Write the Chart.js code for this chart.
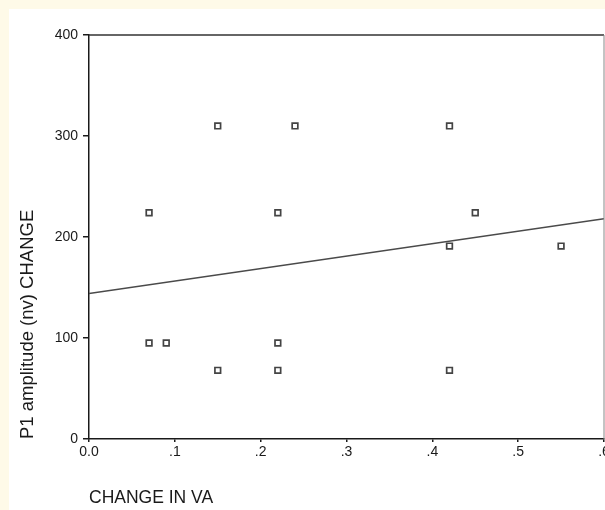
<!DOCTYPE html>
<html>
<head>
<meta charset="utf-8">
<script src="https://cdn.jsdelivr.net/npm/chart.js@4"></script>
<style>
    html, body { margin: 0; padding: 0; overflow: hidden; background: #fefae8; }
    #chart { position: absolute; left: 9px; top: 9px; background: #ffffff; }
</style>
</head>
<body>
<canvas id="chart" width="641" height="501"></canvas>
<script>
// Scatter data
var vaChange = [0.07, 0.07, 0.09, 0.15, 0.15, 0.22, 0.22, 0.22, 0.24, 0.42, 0.42, 0.42, 0.45, 0.55];
var p1Change = [224, 95, 95, 310, 68, 224, 95, 68, 310, 310, 191, 68, 224, 191];

// Fit line ends
var fitX = [0, 0.6];
var fitY = [144, 218];

var xTicks = [0, 0.1, 0.2, 0.3, 0.4, 0.5, 0.6];
var yTicks = [0, 100, 200, 300, 400];

var ink = '#1a1a1a';
var font = 'Arial, "Liberation Sans", sans-serif';

var points = vaChange.map(function(x, i) { return {x: x, y: p1Change[i]}; });
var fitLine = fitX.map(function(x, i) { return {x: x, y: fitY[i]}; });

// top and right edges of the plot box
var frame = {
    id: 'frame',
    afterDraw: function(chart) {
        var a = chart.chartArea, ctx = chart.ctx;
        ctx.save();
        ctx.strokeStyle = '#333333';
        ctx.lineWidth = 1.5;
        ctx.beginPath();
        ctx.moveTo(a.left, a.top);
        ctx.lineTo(a.right, a.top);
        ctx.stroke();
        ctx.strokeStyle = '#888888';
        ctx.lineWidth = 1;
        ctx.beginPath();
        ctx.moveTo(a.right, a.top);
        ctx.lineTo(a.right, a.bottom);
        ctx.stroke();
        ctx.restore();
    }
};

new Chart(document.getElementById('chart'), {
    type: 'scatter',
    data: {
        datasets: [
            {
                data: points,
                pointStyle: 'rect',
                pointRadius: 4,
                borderColor: '#444444',
                backgroundColor: '#ffffff',
                borderWidth: 1.7
            },
            {
                type: 'line',
                data: fitLine,
                borderColor: '#4a4a4a',
                borderWidth: 1.5,
                pointRadius: 0,
                fill: false
            }
        ]
    },
    options: {
        responsive: false,
        animation: false,
        layout: { padding: { left: 0, top: 26, right: 46, bottom: 0 } },
        plugins: { legend: { display: false }, tooltip: { enabled: false } },
        scales: {
            x: {
                type: 'linear',
                min: 0,
                max: 0.6,
                afterBuildTicks: function(scale) {
                    scale.ticks = xTicks.map(function(v) { return {value: v}; });
                },
                afterFit: function(scale) { scale.height = 71; },
                grid: { drawOnChartArea: false, tickLength: 3, color: ink, lineWidth: 1.5 },
                border: { color: ink, width: 1.5 },
                ticks: {
                    color: ink,
                    padding: 2,
                    maxRotation: 0,
                    font: { family: font, size: 14 },
                    callback: function(v) {
                        return v === 0 ? '0.0' : v.toFixed(1).replace(/^0/, '');
                    }
                },
                title: {
                    display: true,
                    text: 'CHANGE IN VA',
                    align: 'start',
                    color: ink,
                    font: { family: font, size: 17.5 },
                    padding: { top: 0, bottom: 1 }
                }
            },
            y: {
                type: 'linear',
                min: 0,
                max: 400,
                afterBuildTicks: function(scale) {
                    scale.ticks = yTicks.map(function(v) { return {value: v}; });
                },
                afterFit: function(scale) { scale.width = 80; },
                grid: { drawOnChartArea: false, tickLength: 6, color: ink, lineWidth: 1.5 },
                border: { color: ink, width: 1.5 },
                ticks: {
                    color: ink,
                    padding: 5,
                    font: { family: font, size: 14 }
                },
                title: {
                    display: true,
                    text: 'P1 amplitude (nv) CHANGE',
                    align: 'start',
                    color: ink,
                    font: { family: font, size: 18.5 },
                    padding: { top: 8, bottom: 0 }
                }
            }
        }
    },
    plugins: [frame]
});
</script>
</body>
</html>
